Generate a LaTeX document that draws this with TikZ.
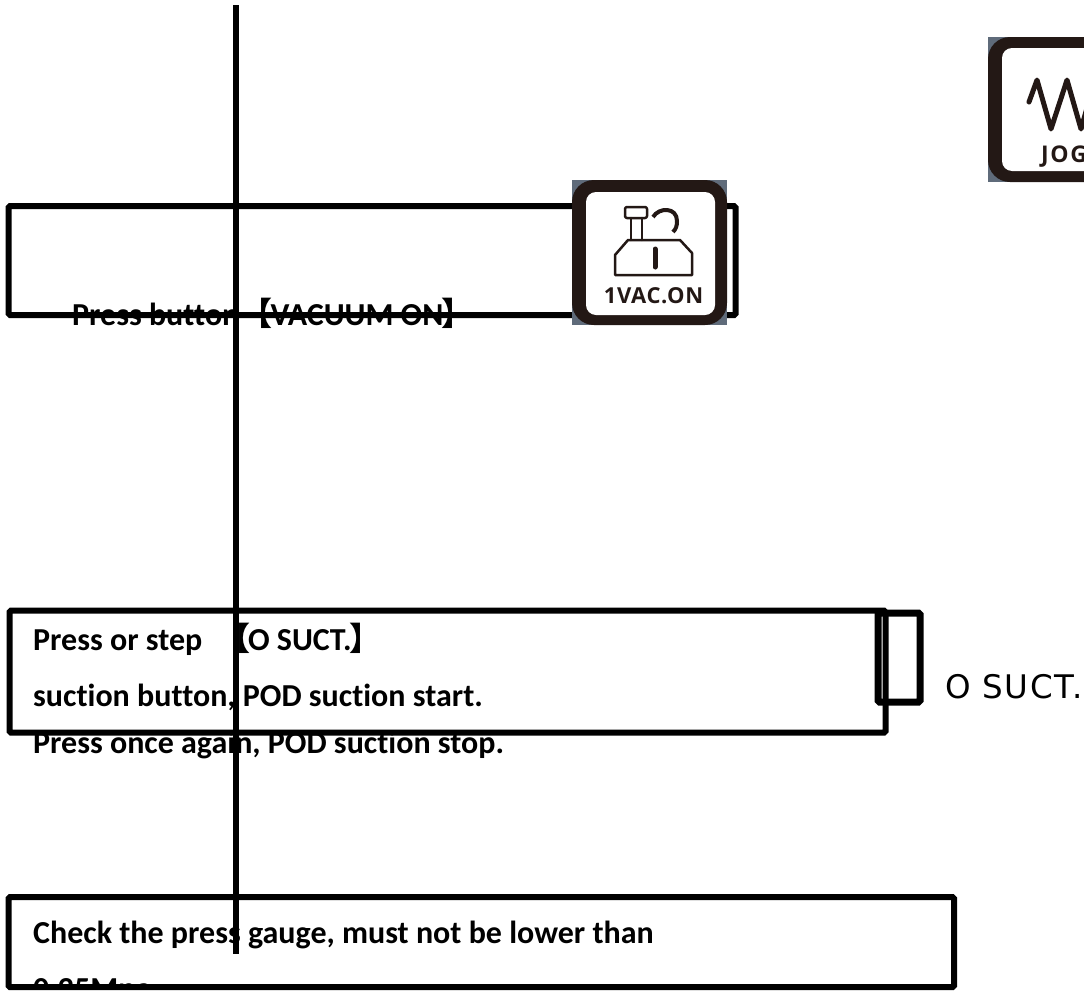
\documentclass[tikz,border=0pt]{standalone}
\usepackage{fontspec}
\setmainfont[Ligatures=NoCommon]{Carlito}
\newfontfamily\cjkb{Noto Sans CJK SC Bold}
\newfontfamily\wide[LetterSpace=5]{DejaVu Sans}
\newfontfamily\iconf[LetterSpace=3]{Open Sans}
\newfontfamily\iconj[LetterSpace=7]{Open Sans}
\definecolor{iconbg}{HTML}{5F6B7A}
\definecolor{iconink}{HTML}{231815}
\newcommand{\lbr}{\hspace*{-6pt}{\cjkb【}\hspace*{-2pt}}
\newcommand{\rbr}{\hspace*{-2pt}{\cjkb】}}
\tikzset{
  framebox/.style={draw=black,line width=6pt,rounded corners=1.5pt,outer sep=0pt,inner sep=0pt,anchor=north west},
  lbl/.style={font=\fontsize{32}{32}\selectfont\bfseries,anchor=base west,inner sep=0pt,text=black},
  ink/.style={draw=iconink,line cap=round,line join=round}
}
\begin{document}
\begin{tikzpicture}[x=1pt,y=-1pt]
\useasboundingbox (0,0) rectangle (1084,991);
% text behind frames
\node[lbl] (t1) at (72,325) {Press button \lbr VACUUM ON\rbr};
\node[lbl] (t2) at (33,650) {Press or step \ \ \lbr O SUCT.\rbr};
\node[lbl] (t3) at (33,706) {suction button, POD suction start.};
\node[lbl] (t4) at (33,753) {Press once again, POD suction stop.};
\node[lbl] (t5) at (33,943) {Check the press gauge, must not be lower than};
\begin{scope}
\clip (0,900) rectangle (1084,988);
\node[lbl] (t6) at (33,999) {0.25Mpa};
\end{scope}
% frames
\node[framebox,minimum width=727pt,minimum height=109pt] (b1) at (8.5,206) {};
\node[framebox,minimum width=876pt,minimum height=122pt] (b2) at (9.5,610.5) {};
\node[framebox,minimum width=945.5pt,minimum height=90pt] (b3) at (8.5,897) {};
\node[framebox,line width=7pt,minimum width=42pt,minimum height=89pt] (b4) at (878,613) {};
% vertical line
\coordinate (vtop) at (236,5);
\coordinate (vbot) at (236,954);
\draw[black,line width=6pt] (vtop) -- (vbot);
% VAC icon
\fill[iconbg] (572,180) rectangle (727,325);
\fill[iconink,rounded corners=22pt] (572,180) rectangle (727,325);
\fill[white,rounded corners=10pt] (586,192) rectangle (715,315);
\draw[ink,line width=2.5pt,rounded corners=2pt] (625,207) rectangle (647,218);
\draw[ink,line width=2.5pt] (631,218) -- (631,240) (642,218) -- (642,240);
\draw[ink,line width=2.5pt] (615,275) -- (615,255) -- (628,240) -- (680,240) -- (692,253) -- (692,275) -- cycle;
\draw[ink,line width=5pt] (655,249) -- (655,267);
\draw[ink,line width=4pt,line cap=butt] (653,217) .. controls (659,207) and (677,207) .. (677,221) .. controls (677,226) and (676,229) .. (673,232);
\node[font=\iconf\fontsize{22}{22}\selectfont\bfseries,text=iconink,inner sep=0pt] (vac) at (653.5,296) {1VAC.ON};
% JOG icon
\begin{scope}
\clip (980,30) rectangle (1084,190);
\fill[iconbg] (988,37) rectangle (1100,182);
\fill[iconink,rounded corners=22pt] (988,37) rectangle (1143,182);
\fill[white,rounded corners=10pt] (1002,48) rectangle (1131,171);
\draw[ink,line width=5pt] (1029,102) -- (1037,80) -- (1051,129) -- (1067,80) -- (1081,129) -- (1095,80);
\node[font=\iconj\fontsize{23}{23}\selectfont\bfseries,text=iconink,inner sep=0pt,anchor=base west] (jog) at (1041,162) {JOG};
\end{scope}
% O SUCT.
\node[font=\wide\fontsize{32.5}{32.5}\selectfont,anchor=base west,inner sep=0pt,text=black] (os) at (945,698) {O SUCT.};
\end{tikzpicture}
\end{document}
